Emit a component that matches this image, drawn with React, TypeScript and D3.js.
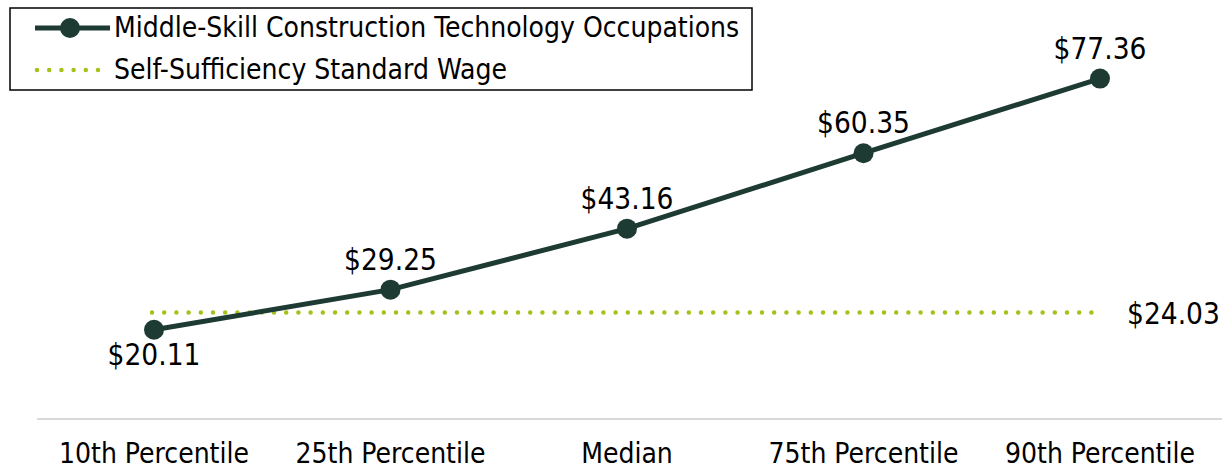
import React from "react";
import * as d3 from "d3";

const categories = ["10th Percentile", "25th Percentile", "Median", "75th Percentile", "90th Percentile"];
const wages = [20.11, 29.25, 43.16, 60.35, 77.36];
const selfSufficiency = 24.03;
const seriesNames = ["Middle-Skill Construction Technology Occupations", "Self-Sufficiency Standard Wage"];

const W = 1222, H = 471;
const FONT = "'DejaVu Sans Condensed', sans-serif";
const LINE = "#1d3b33";
const DOT = "#a4c11c";

export default function App() {
  const x = d3.scalePoint<string>().domain(categories).range([154, 1100]);
  const y = d3.scaleLinear().domain([0, 80]).range([418, 67]);
  const line = d3.line<number>().x((_, i) => x(categories[i])!).y(d => y(d));
  const fmt = (v: number) => "$" + v.toFixed(2);
  const ys = y(selfSufficiency);
  return (
    <svg width={W} height={H} style={{ position: "absolute", left: 0, top: 0, background: "#fff" }}>
      <line x1={37} x2={1222} y1={419} y2={419} stroke="#d9d9d9" strokeWidth={2} />
      <line x1={152} x2={1100} y1={ys} y2={ys} stroke={DOT} strokeWidth={4.5} strokeLinecap="round" strokeDasharray="0 12.2" />
      <path d={line(wages)!} fill="none" stroke={LINE} strokeWidth={5} />
      {wages.map((v, i) => (
        <circle key={i} cx={x(categories[i])} cy={y(v)} r={10} fill={LINE} />
      ))}
      {wages.map((v, i) => (
        <text key={"t" + i} x={x(categories[i])} y={i === 0 ? y(v) + 35 : y(v) - 20} textAnchor="middle"
          fontFamily={FONT} fontSize={29.5} fill="#000">{fmt(v)}</text>
      ))}
      <text x={1127} y={ys + 11} fontFamily={FONT} fontSize={29.5} fill="#000">{fmt(selfSufficiency)}</text>
      {categories.map(c => (
        <text key={c} x={x(c)} y={463} textAnchor="middle" fontFamily={FONT} fontSize={28} fill="#000">{c}</text>
      ))}
      <rect x={10} y={8} width={742} height={82} fill="#fff" stroke="#000" strokeWidth={1.5} />
      <line x1={35} x2={110} y1={28} y2={28} stroke={LINE} strokeWidth={5} />
      <circle cx={70} cy={28} r={10} fill={LINE} />
      <text x={114} y={37} fontFamily={FONT} fontSize={28} fill="#000">{seriesNames[0]}</text>
      <line x1={37} x2={100} y1={70} y2={70} stroke={DOT} strokeWidth={4.5} strokeLinecap="round" strokeDasharray="0 12.2" />
      <text x={114} y={79} fontFamily={FONT} fontSize={28} fill="#000">{seriesNames[1]}</text>
    </svg>
  );
}
